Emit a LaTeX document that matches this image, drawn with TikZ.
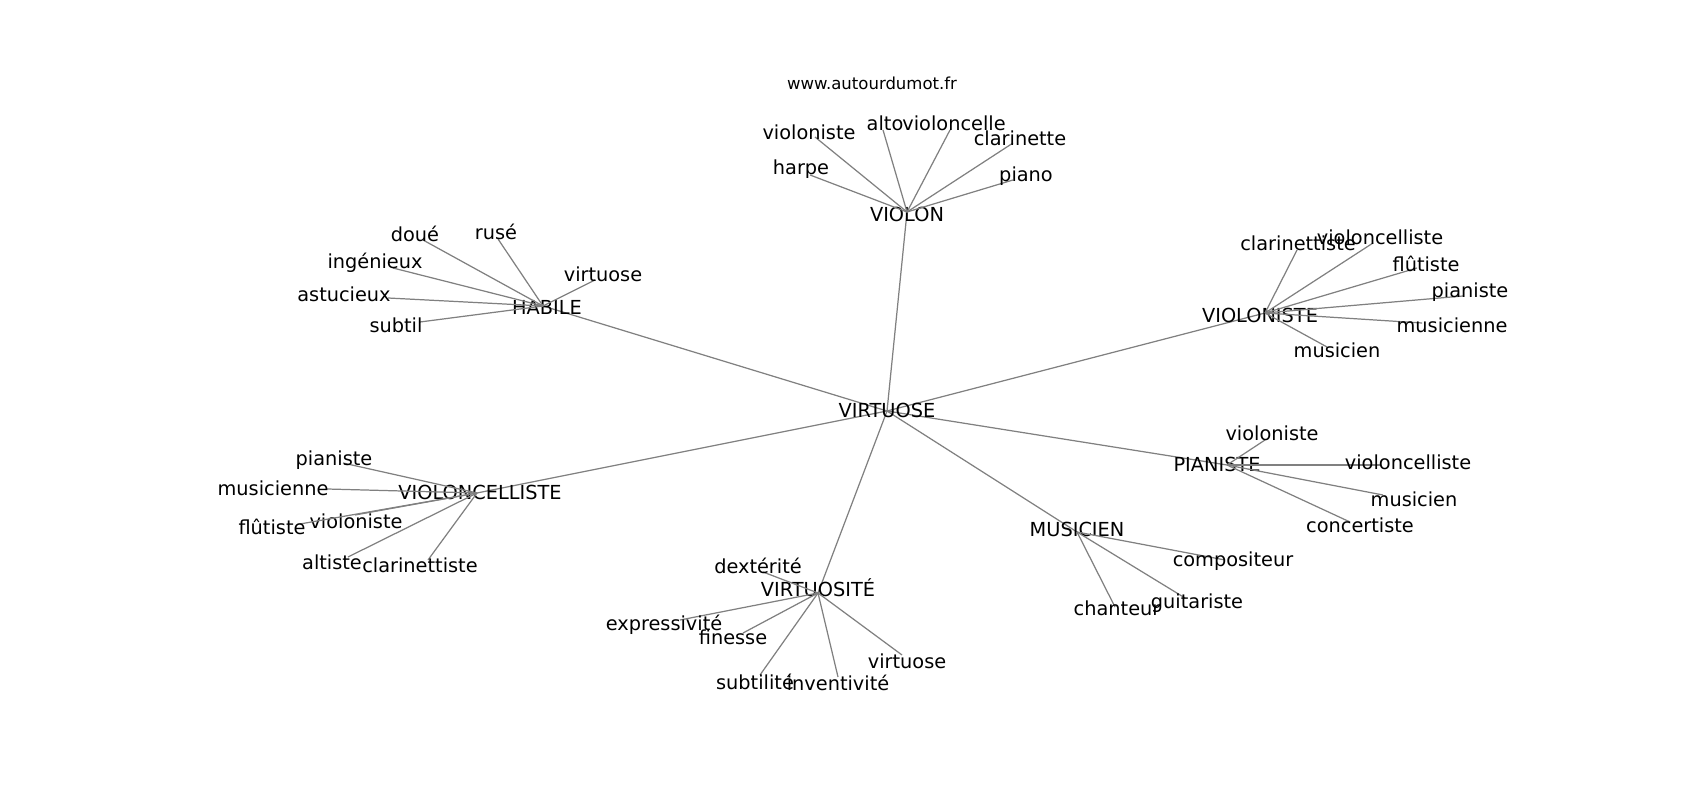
\documentclass[tikz,border=0pt]{standalone}
\usepackage{fontspec}
\setmainfont{DejaVu Sans}
\tikzset{
  lbl/.style={inner sep=0pt, font=\fontsize{5.5}{6}\selectfont},
  site/.style={inner sep=0pt, font=\fontsize{4.7}{5}\selectfont},
  edge/.style={draw=gray, line width=0.35pt},
}
\begin{document}
\begin{tikzpicture}[x=0.1mm,y=-0.1mm]
\useasboundingbox (0,0) rectangle (1700,800);
\node[site] (url) at (872,83) {www.autourdumot.fr};
% centres
\coordinate (virtuose) at (887,411);
\coordinate (violon) at (907,212);
\coordinate (habile) at (543,306);
\coordinate (violoniste) at (1265,313);
\coordinate (violoncelliste) at (477,493);
\coordinate (pianiste) at (1227,465);
\coordinate (musicien) at (1077,532);
\coordinate (virtuosite) at (818,593);
\foreach \hub in {violon,habile,violoniste,violoncelliste,pianiste,musicien,virtuosite}
  \draw[edge] (virtuose) -- (\hub);
\node[lbl] (virtuose-t) at (887,410) {VIRTUOSE};
\node[lbl] (violon-t) at (907,214) {VIOLON};
\node[lbl] (habile-t) at (547,307) {HABILE};
\node[lbl] (violoniste-t) at (1260,315) {VIOLONISTE};
\node[lbl] (violoncelliste-t) at (480,492) {VIOLONCELLISTE};
\node[lbl] (pianiste-t) at (1217,464) {PIANISTE};
\node[lbl] (musicien-t) at (1077,529) {MUSICIEN};
\node[lbl] (virtuosite-t) at (818,588) {VIRTUOSITÉ};
% VIOLON
\foreach \ex/\ey/\lx/\ly/\word [count=\i] in {815/137/809/132/violoniste,883/130/885/123/alto,
  950/130/954/123/violoncelle,1013/143/1020/138/clarinette,810/175/801/169/harpe,1013/180/1026/176/piano}{
  \coordinate (violon-\i) at (\ex,\ey);
  \draw[edge] (violon) -- (violon-\i);
  \node[lbl] (violon-w\i) at (\lx,\ly) {\word};
}
% HABILE
\foreach \ex/\ey/\lx/\ly/\word [count=\i] in {423/240/415/234/doué,498/239/496/232/rusé,393/268/375/263/ingénieux,
  595/280/603/274/virtuose,388/298/344/294/astucieux,420/322/396/325/subtil}{
  \coordinate (habile-\i) at (\ex,\ey);
  \draw[edge] (habile) -- (habile-\i);
  \node[lbl] (habile-w\i) at (\lx,\ly) {\word};
}
% VIOLONISTE
\foreach \ex/\ey/\lx/\ly/\word [count=\i] in {1297/250/1298/243/clarinettiste,1373/243/1380/237/violoncelliste,
  1417/268/1426/264/flûtiste,1463/296/1470/292/pianiste,1422/323/1452/325/musicienne,1327/347/1337/350/musicien}{
  \coordinate (violoniste-\i) at (\ex,\ey);
  \draw[edge] (violoniste) -- (violoniste-\i);
  \node[lbl] (violoniste-w\i) at (\lx,\ly) {\word};
}
% VIOLONCELLISTE
\foreach \ex/\ey/\lx/\ly/\word [count=\i] in {343/463/334/460/pianiste,327/489/273/488/musicienne,
  355/515/356/521/violoniste,300/524/272/527/flûtiste,348/557/332/562/altiste,428/560/420/565/clarinettiste}{
  \coordinate (violoncelliste-\i) at (\ex,\ey);
  \draw[edge] (violoncelliste) -- (violoncelliste-\i);
  \node[lbl] (violoncelliste-w\i) at (\lx,\ly) {\word};
}
% PIANISTE
\foreach \ex/\ey/\lx/\ly/\word [count=\i] in {1265/440/1272/433/violoniste,1380/465/1408/462/violoncelliste,
  1383/495/1414/499/musicien,1350/522/1360/525/concertiste}{
  \coordinate (pianiste-\i) at (\ex,\ey);
  \draw[edge] (pianiste) -- (pianiste-\i);
  \node[lbl] (pianiste-w\i) at (\lx,\ly) {\word};
}
% MUSICIEN
\foreach \ex/\ey/\lx/\ly/\word [count=\i] in {1225/560/1233/561/compositeur,1185/598/1197/603/guitariste,
  1115/607/1117/608/chanteur}{
  \coordinate (musicien-\i) at (\ex,\ey);
  \draw[edge] (musicien) -- (musicien-\i);
  \node[lbl] (musicien-w\i) at (\lx,\ly) {\word};
}
% VIRTUOSITE
\foreach \ex/\ey/\lx/\ly/\word [count=\i] in {763/572/758/566/dextérité,680/620/664/625/expressivité,
  743/633/733/637/finesse,760/675/755/682/subtilité,838/677/838/683/inventivité,902/655/907/661/virtuose}{
  \coordinate (virtuosite-\i) at (\ex,\ey);
  \draw[edge] (virtuosite) -- (virtuosite-\i);
  \node[lbl] (virtuosite-w\i) at (\lx,\ly) {\word};
}
\end{tikzpicture}
\end{document}
